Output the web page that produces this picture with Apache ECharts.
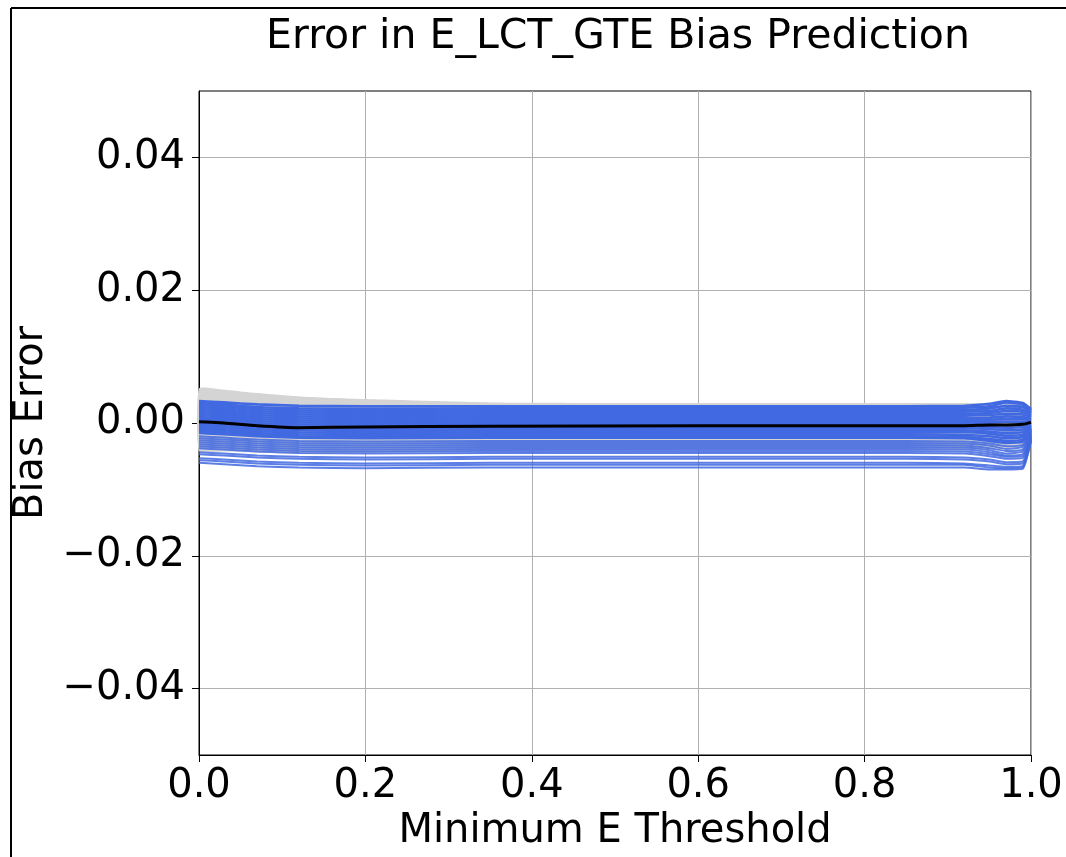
<!DOCTYPE html>
<html>
<head>
<meta charset="utf-8">
<title>Error in E_LCT_GTE Bias Prediction</title>
<script src="https://cdn.jsdelivr.net/npm/echarts@6/dist/echarts.min.js"></script>
<style>
	html, body { margin: 0; padding: 0; background: #fff; }
	#chart { width: 1066px; height: 857px; }
</style>
</head>
<body>
<div id="chart"></div>
<script>
// threshold values along x
var thresholds = [0, 0.03, 0.07, 0.12, 0.2, 0.35, 0.6, 0.85, 0.92, 0.95, 0.97, 0.99, 1.0];

// mean bias error (black line)
var meanError = [0.0002, 0.0000, -0.0004, -0.0007, -0.0006, -0.0005, -0.0004, -0.0004, -0.0004, -0.0003, -0.0003, -0.0002, 0.0001];

// grey spread band
var bandUpper = [0.0052, 0.0050, 0.0045, 0.0040, 0.0036, 0.0031, 0.0030, 0.0030, 0.0030, 0.0030, 0.0030, 0.0028, 0.0019];
var bandLower = [-0.0042, -0.0043, -0.0045, -0.0046, -0.0045, -0.0042, -0.0040, -0.0040, -0.0040, -0.0040, -0.0038, -0.0035, -0.0015];

// individual runs (blue lines): dense core first, then the sparse lower ones
var runs = [
	[0.0033, 0.0031, 0.0028, 0.0026, 0.0025, 0.0025, 0.0025, 0.0025, 0.0026, 0.0029, 0.0033, 0.0030, 0.0021],
	[0.0030, 0.0028, 0.0024, 0.0022, 0.0021, 0.0022, 0.0022, 0.0022, 0.0023, 0.0025, 0.0031, 0.0028, 0.0019],
	[0.0027, 0.0025, 0.0021, 0.0019, 0.0018, 0.0019, 0.0019, 0.0019, 0.0019, 0.0022, 0.0026, 0.0024, 0.0016],
	[0.0024, 0.0022, 0.0018, 0.0016, 0.0015, 0.0016, 0.0016, 0.0016, 0.0017, 0.0018, 0.0022, 0.0020, 0.0014],
	[0.0021, 0.0019, 0.0015, 0.0013, 0.0012, 0.0013, 0.0013, 0.0013, 0.0013, 0.0015, 0.0018, 0.0017, 0.0011],
	[0.0018, 0.0016, 0.0012, 0.0010, 0.0009, 0.0010, 0.0010, 0.0010, 0.0011, 0.0012, 0.0014, 0.0013, 0.0009],
	[0.0015, 0.0013, 0.0009, 0.0007, 0.0006, 0.0007, 0.0007, 0.0007, 0.0007, 0.0008, 0.0010, 0.0009, 0.0006],
	[0.0012, 0.0010, 0.0006, 0.0004, 0.0003, 0.0004, 0.0004, 0.0004, 0.0004, 0.0005, 0.0006, 0.0006, 0.0004],
	[0.0009, 0.0007, 0.0003, 0.0001, 0.0000, 0.0001, 0.0001, 0.0001, 0.0001, 0.0002, 0.0002, 0.0002, 0.0002],
	[0.0006, 0.0004, 0.0000, -0.0002, -0.0003, -0.0002, -0.0002, -0.0002, -0.0002, -0.0002, -0.0003, -0.0002, 0.0000],
	[0.0003, 0.0001, -0.0003, -0.0005, -0.0006, -0.0005, -0.0005, -0.0005, -0.0005, -0.0006, -0.0007, -0.0006, -0.0002],
	[0.0000, -0.0002, -0.0006, -0.0008, -0.0009, -0.0008, -0.0008, -0.0008, -0.0008, -0.0009, -0.0011, -0.0010, -0.0004],
	[-0.0003, -0.0005, -0.0009, -0.0011, -0.0012, -0.0011, -0.0011, -0.0011, -0.0011, -0.0013, -0.0015, -0.0014, -0.0006],
	[-0.0006, -0.0008, -0.0012, -0.0014, -0.0015, -0.0014, -0.0014, -0.0014, -0.0014, -0.0016, -0.0019, -0.0018, -0.0008],
	[-0.0009, -0.0011, -0.0015, -0.0017, -0.0018, -0.0017, -0.0017, -0.0017, -0.0018, -0.0020, -0.0023, -0.0021, -0.0009],
	[-0.0012, -0.0014, -0.0018, -0.0020, -0.0021, -0.0020, -0.0020, -0.0020, -0.0021, -0.0024, -0.0027, -0.0025, -0.0011],
	[-0.0015, -0.0017, -0.0020, -0.0022, -0.0023, -0.0022, -0.0022, -0.0022, -0.0023, -0.0027, -0.0030, -0.0028, -0.0012],
	[-0.0020, -0.0022, -0.0025, -0.0027, -0.0028, -0.0027, -0.0027, -0.0027, -0.0028, -0.0031, -0.0035, -0.0033, -0.0014],
	[-0.0023, -0.0025, -0.0028, -0.0030, -0.0031, -0.0030, -0.0030, -0.0030, -0.0031, -0.0034, -0.0039, -0.0036, -0.0015],
	[-0.0026, -0.0028, -0.0031, -0.0033, -0.0034, -0.0033, -0.0033, -0.0033, -0.0034, -0.0038, -0.0042, -0.0040, -0.0016],
	[-0.0029, -0.0031, -0.0034, -0.0036, -0.0037, -0.0036, -0.0036, -0.0036, -0.0037, -0.0041, -0.0046, -0.0043, -0.0018],
	[-0.0032, -0.0034, -0.0037, -0.0039, -0.0040, -0.0039, -0.0039, -0.0039, -0.0040, -0.0044, -0.0049, -0.0047, -0.0019],
	[-0.0035, -0.0037, -0.0040, -0.0042, -0.0043, -0.0042, -0.0042, -0.0042, -0.0043, -0.0047, -0.0051, -0.0050, -0.0020],
	[-0.0038, -0.0040, -0.0043, -0.0045, -0.0046, -0.0045, -0.0045, -0.0045, -0.0046, -0.0050, -0.0054, -0.0053, -0.0021],
	[-0.0044, -0.0046, -0.0049, -0.0051, -0.0052, -0.0051, -0.0051, -0.0051, -0.0052, -0.0055, -0.0059, -0.0058, -0.0023],
	[-0.0047, -0.0049, -0.0052, -0.0054, -0.0055, -0.0054, -0.0054, -0.0054, -0.0055, -0.0058, -0.0062, -0.0061, -0.0024],
	[-0.0053, -0.0055, -0.0058, -0.0060, -0.0061, -0.0060, -0.0060, -0.0060, -0.0061, -0.0064, -0.0066, -0.0065, -0.0025],
	[-0.0056, -0.0058, -0.0061, -0.0063, -0.0064, -0.0063, -0.0063, -0.0063, -0.0063, -0.0067, -0.0068, -0.0067, -0.0026],
	[-0.0060, -0.0062, -0.0065, -0.0067, -0.0068, -0.0067, -0.0067, -0.0067, -0.0067, -0.0070, -0.0070, -0.0069, -0.0027]
];
var denseCount = 17;		// first runs forming the solid core

// tick labels
var xTicks = [0, 0.2, 0.4, 0.6, 0.8, 1.0];
var yTicks = [-0.04, -0.02, 0, 0.02, 0.04];

var FONT = 'DejaVu Sans';

function pairs(ys) {		// zip thresholds with y values
	return thresholds.map(function (x, i) { return [x, ys[i]]; });
}

var series = [];

// grey band as one polygon: upper edge left->right, lower edge right->left
series.push({
	type: 'custom', silent: true, z: 1,
	data: [0],
	renderItem: function (params, api) {
		var pts = [], i;
		for (i = 0; i < thresholds.length; i++) pts.push(api.coord([thresholds[i], bandUpper[i]]));
		for (i = thresholds.length - 1; i >= 0; i--) pts.push(api.coord([thresholds[i], bandLower[i]]));
		return {
			type: 'polygon',
			shape: { points: pts, smooth: 0.15 },
			style: { fill: '#d4d4d4' }
		};
	}
});

runs.forEach(function (r, k) {
	var dense = k < denseCount;
	series.push({
		type: 'line', silent: true, symbol: 'none', smooth: 0.15,
		lineStyle: { color: '#4169e1', width: dense ? 2.6 : 2, opacity: dense ? 1 : 0.85 },
		data: pairs(r), z: 2
	});
});

series.push({
	type: 'line', silent: true, symbol: 'none', smooth: 0.2,
	lineStyle: { color: '#000', width: 3 },
	data: pairs(meanError), z: 3
});

var chart = echarts.init(document.getElementById('chart'));
chart.setOption({
	animation: false,
	backgroundColor: '#fff',
	title: {
		text: 'Error in E_LCT_GTE Bias Prediction',
		left: 613, top: 12, textAlign: 'center',
		textStyle: { fontFamily: FONT, fontSize: 41, fontWeight: 'normal', color: '#000' }
	},
	graphic: [
		{ type: 'line', shape: { x1: 11, y1: 8, x2: 11, y2: 857 }, style: { stroke: '#000', lineWidth: 2 } },
		{ type: 'line', shape: { x1: 11, y1: 8, x2: 1066, y2: 8 }, style: { stroke: '#000', lineWidth: 2 } }
	],
	grid: {
		left: 199, right: 35, top: 91, bottom: 97,
		show: true, borderColor: '#000', borderWidth: 1, backgroundColor: 'transparent'
	},
	xAxis: {
		type: 'value', min: 0, max: 1, interval: 0.2,
		name: 'Minimum E Threshold', nameLocation: 'middle', nameGap: 57,
		nameTextStyle: { fontFamily: FONT, fontSize: 40, color: '#000' },
		axisLine: { onZero: false, lineStyle: { color: '#000', width: 1 } },
		axisTick: { show: true, length: 7, lineStyle: { color: '#000' } },
		axisLabel: {
			margin: 12, fontFamily: FONT, fontSize: 40, color: '#000',
			formatter: function (v) { return v.toFixed(1); }
		},
		splitLine: { show: true, lineStyle: { color: '#b0b0b0', width: 1 } }
	},
	yAxis: {
		type: 'value', min: -0.05, max: 0.05,
		name: 'Bias Error', nameLocation: 'middle', nameGap: 137,
		nameTextStyle: { fontFamily: FONT, fontSize: 40, color: '#000' },
		axisLine: { show: true, lineStyle: { color: '#000', width: 1 } },
		axisTick: { show: true, length: 7, customValues: yTicks, lineStyle: { color: '#000' } },
		axisLabel: {
			margin: 14, fontFamily: FONT, fontSize: 40, color: '#000',
			customValues: yTicks,
			formatter: function (v) {
				if (Math.abs(v) < 1e-9) return '0.00';
				return (v < 0 ? '\u2212' : '') + Math.abs(v).toFixed(2);
			}
		},
		splitLine: { show: true, lineStyle: { color: '#b0b0b0', width: 1 } }
	},
	series: series
});
</script>
</body>
</html>
